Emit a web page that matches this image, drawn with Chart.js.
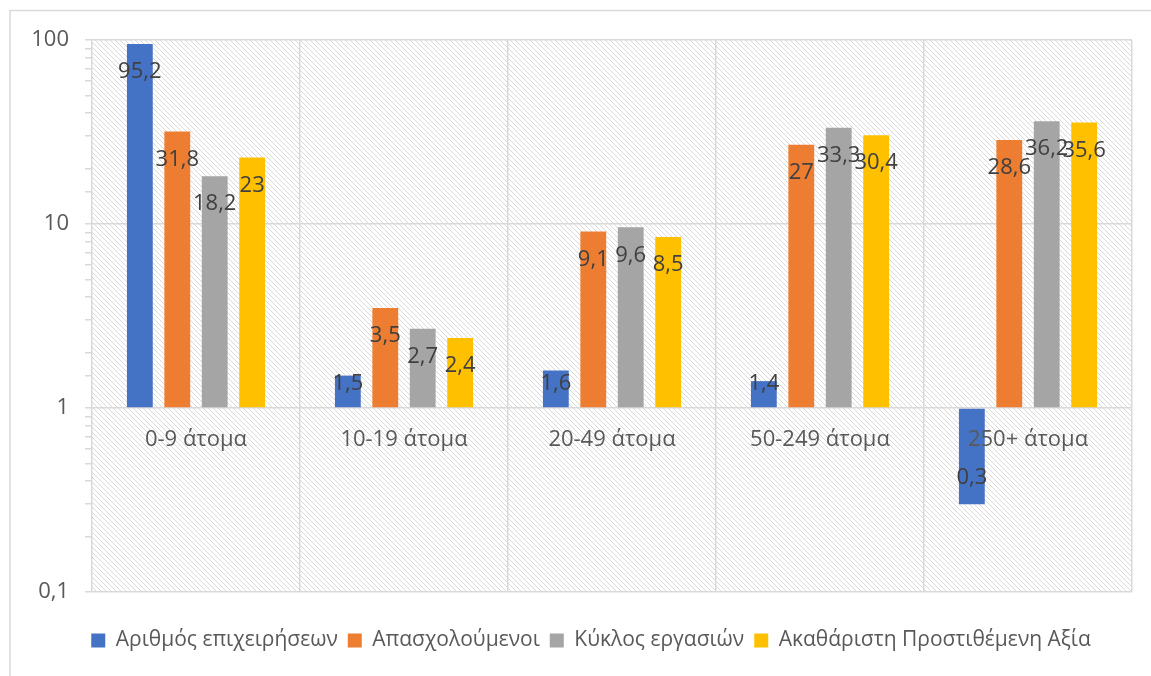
<!DOCTYPE html>
<html>
<head>
<meta charset="utf-8">
<script src="https://cdn.jsdelivr.net/npm/chart.js@4/dist/chart.umd.min.js"></script>
<style>
html,body{margin:0;padding:0;background:#fff;}
#wrap{width:1151px;height:676px;position:relative;}
</style>
</head>
<body>
<div id="wrap"><canvas id="c" width="1151" height="676"></canvas></div>
<script>
const categories = ["0-9 άτομα", "10-19 άτομα", "20-49 άτομα", "50-249 άτομα", "250+ άτομα"];
const seriesNames = ["Αριθμός επιχειρήσεων", "Απασχολούμενοι", "Κύκλος εργασιών", "Ακαθάριστη Προστιθέμενη Αξία"];
const firms = [95.2, 1.5, 1.6, 1.4, 0.3];
const employed = [31.8, 3.5, 9.1, 27, 28.6];
const turnover = [18.2, 2.7, 9.6, 33.3, 36.2];
const gva = [23, 2.4, 8.5, 30.4, 35.6];
const yTickLabels = [0.1, 1, 10, 100];
const colors = ["#4472C4", "#ED7D31", "#A5A5A5", "#FFC000"];

const FONT = "'Open Sans', 'DejaVu Sans', sans-serif";

function makeHatch() {
  const n = 5;
  const t = document.createElement('canvas');
  t.width = n; t.height = n;
  const g = t.getContext('2d');
  g.fillStyle = '#ffffff';
  g.fillRect(0, 0, n, n);
  g.strokeStyle = '#d9d9d9';
  g.lineWidth = 1;
  g.beginPath();
  g.moveTo(-1, -1); g.lineTo(n + 1, n + 1);
  g.moveTo(-1, n - 1); g.lineTo(1, n + 1);
  g.moveTo(n - 1, -1); g.lineTo(n + 1, 1);
  g.stroke();
  return t;
}

const bgPlugin = {
  id: 'bg',
  afterLayout(chart) {
    if (chart.legend) chart.legend.left += 50;
  },
  beforeDraw(chart) {
    const ctx = chart.ctx;
    const a = chart.chartArea;
    ctx.save();
    ctx.fillStyle = '#fff';
    ctx.fillRect(0, 0, chart.width, chart.height);
    ctx.strokeStyle = '#d9d9d9';
    ctx.lineWidth = 1.5;
    ctx.beginPath();
    ctx.moveTo(10, chart.height); ctx.lineTo(10, 10.5); ctx.lineTo(chart.width, 10.5);
    ctx.stroke();
    ctx.fillStyle = ctx.createPattern(makeHatch(), 'repeat');
    ctx.fillRect(a.left, a.top, a.right - a.left, a.bottom - a.top);
    ctx.restore();
  }
};

const labelPlugin = {
  id: 'vlabels',
  afterDatasetsDraw(chart) {
    const ctx = chart.ctx;
    ctx.save();
    ctx.font = "22px " + FONT;
    ctx.fillStyle = '#404040';
    ctx.textAlign = 'center';
    ctx.textBaseline = 'middle';
    chart.data.datasets.forEach((ds, di) => {
      const meta = chart.getDatasetMeta(di);
      meta.data.forEach((el, i) => {
        const v = ds.data[i];
        const p = el.getProps(['x', 'y', 'base'], true);
        let cy;
        if (p.y <= p.base) cy = Math.min(p.y + 28, p.base - 24);
        else cy = p.y - 26;
        ctx.fillText(String(v).replace('.', ','), p.x, cy);
      });
    });
    ctx.restore();
  }
};

function isPow10(v) {
  const l = Math.log10(v);
  return Math.abs(l - Math.round(l)) < 1e-6;
}

const seriesData = [firms, employed, turnover, gva];

new Chart(document.getElementById('c'), {
  type: 'bar',
  data: {
    labels: categories,
    datasets: seriesData.map((d, i) => ({
      label: seriesNames[i],
      data: d,
      backgroundColor: colors[i],
      base: 1,
      categoryPercentage: 0.72,
      barPercentage: 0.69
    }))
  },
  options: {
    responsive: false,
    animation: false,
    layout: { padding: { left: 0, right: 19, top: 40, bottom: 15 } },
    plugins: {
      legend: {
        position: 'bottom',
        title: { display: true, text: ' ', padding: 0, font: { family: FONT, size: 20, lineHeight: 1.4 } },
        labels: {
          font: { family: FONT, size: 21 },
          color: '#595959',
          boxWidth: 14,
          boxHeight: 14,
          padding: 10
        }
      },
      tooltip: { enabled: false }
    },
    scales: {
      x: {
        position: { y: 1 },
        grid: { color: '#d9d9d9', lineWidth: 1.5, drawTicks: false, offset: true },
        border: { display: false },
        ticks: { z: 1, font: { family: FONT, size: 22 }, color: '#595959', padding: 19 }
      },
      y: {
        type: 'logarithmic',
        min: 0.1,
        max: 100,
        afterFit(scale) { scale.width = 92; },
        border: { display: false },
        grid: {
          color: (c) => (c.tick && isPow10(c.tick.value)) ? '#d9d9d9' : 'rgba(0,0,0,0)',
          lineWidth: 1.5,
          tickColor: '#d9d9d9',
          tickLength: 7
        },
        ticks: {
          autoSkip: false,
          font: { family: FONT, size: 22 },
          color: '#595959',
          padding: 16,
          callback: (v) => {
            const hit = yTickLabels.find(t => Math.abs(t - v) < 1e-9);
            return hit !== undefined ? String(hit).replace('.', ',') : '';
          }
        }
      }
    }
  },
  plugins: [bgPlugin, labelPlugin]
});
</script>
</body>
</html>
